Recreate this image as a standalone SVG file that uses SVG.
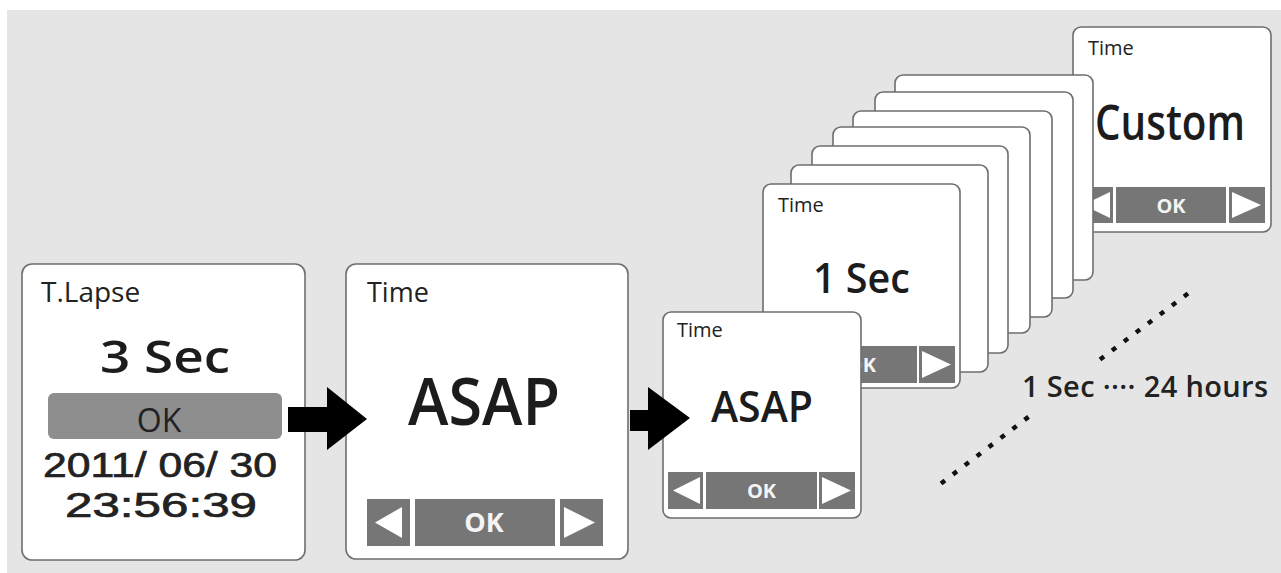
<svg xmlns="http://www.w3.org/2000/svg" width="1281" height="573" viewBox="0 0 1281 573">
<style>
.box{fill:#ffffff;stroke:#6e6e6e;stroke-width:1.6}
.btn{fill:#767676}
.tri{fill:#ffffff}
.t{font-family:"Open Sans","Noto Sans","Liberation Sans",sans-serif;fill:#222222}
.big{font-weight:600;fill:#1c1c1c}
.d{font-family:"Liberation Sans","Open Sans",sans-serif;fill:#222222;stroke:#222222;stroke-width:0.7;text-anchor:middle}
.ok{font-family:"Open Sans","Noto Sans","Liberation Sans",sans-serif;font-weight:700;fill:#f4f4f4;text-anchor:middle}
.mid{text-anchor:middle}
.arrow{fill:#000000}
.dots{fill:none;stroke:#111111;stroke-width:4.5;stroke-dasharray:5 10}
</style>
<rect x="0" y="0" width="1281" height="573" fill="#ffffff"/>
<rect x="7" y="10" width="1274" height="563" fill="#e5e5e5"/>

<g id="node-custom">
<rect class="box" x="1073" y="27" width="198" height="205" rx="8"/>
<text class="t" x="1088" y="55" font-size="20">Time</text>
<text class="t big mid" x="1170" y="140" font-size="48" textLength="150" lengthAdjust="spacingAndGlyphs">Custom</text>
<rect class="btn" x="1078" y="187" width="35" height="36"/>
<polygon class="tri" points="1083,205 1110,192 1110,218"/>
<rect class="btn" x="1116" y="187" width="110" height="36"/>
<text class="ok" x="1171" y="213" font-size="20">OK</text>
<rect class="btn" x="1229" y="187" width="36" height="36"/>
<polygon class="tri" points="1232,192 1261,205 1232,218"/>
</g>

<g id="node-stack">
<rect class="box" x="895" y="75" width="198" height="205" rx="8"/>
<rect class="box" x="875" y="92" width="198" height="206" rx="8"/>
<rect class="box" x="853" y="111" width="199" height="206" rx="8"/>
<rect class="box" x="833" y="127" width="197" height="206" rx="8"/>
<rect class="box" x="812" y="146" width="196" height="207" rx="8"/>
<rect class="box" x="791" y="165" width="197" height="207" rx="8"/>
</g>

<g id="node-1sec">
<rect class="box" x="763" y="184" width="197" height="204" rx="8"/>
<text class="t" x="778" y="212" font-size="20">Time</text>
<text class="t big mid" x="861.5" y="293" font-size="42" textLength="97" lengthAdjust="spacingAndGlyphs">1 Sec</text>
<rect class="btn" x="768" y="346" width="35" height="37"/>
<polygon class="tri" points="773,364.5 800,351 800,378"/>
<rect class="btn" x="806" y="346" width="111" height="37"/>
<text class="ok" x="861.5" y="372" font-size="20">OK</text>
<rect class="btn" x="919" y="346" width="36" height="37"/>
<polygon class="tri" points="922,351 951,364.5 922,378"/>
</g>

<g id="node-asap-small">
<rect class="box" x="663" y="312" width="198" height="206" rx="8"/>
<text class="t" x="677" y="337" font-size="20">Time</text>
<text class="t big mid" x="762" y="422" font-size="44" textLength="102" lengthAdjust="spacingAndGlyphs">ASAP</text>
<rect class="btn" x="668" y="472" width="35" height="37"/>
<polygon class="tri" points="673,490.5 700,477 700,504"/>
<rect class="btn" x="706" y="472" width="111" height="37"/>
<text class="ok" x="761.5" y="498" font-size="20">OK</text>
<rect class="btn" x="819" y="472" width="36" height="37"/>
<polygon class="tri" points="822,477 851,490.5 822,504"/>
</g>

<g id="node-tlapse">
<rect class="box" x="22" y="264" width="283" height="296" rx="10"/>
<text class="t" x="41" y="302" font-size="28">T.Lapse</text>
<text class="t big mid" x="165" y="373" font-size="46" textLength="130" lengthAdjust="spacingAndGlyphs">3 Sec</text>
<rect x="48" y="393" width="234" height="46" rx="6" fill="#8e8e8e"/>
<text class="t mid" x="159" y="432" font-size="32">OK</text>
<text class="d" x="160" y="477" font-size="35" textLength="234" lengthAdjust="spacingAndGlyphs">2011/ 06/ 30</text>
<text class="d" x="161" y="517" font-size="35" textLength="192" lengthAdjust="spacingAndGlyphs">23:56:39</text>
</g>

<g id="node-asap">
<rect class="box" x="346" y="264" width="282" height="295" rx="10"/>
<text class="t" x="367" y="302" font-size="27">Time</text>
<text class="t big mid" x="484" y="425" font-size="66" textLength="152" lengthAdjust="spacingAndGlyphs">ASAP</text>
<rect class="btn" x="367" y="499" width="43" height="47"/>
<polygon class="tri" points="375,522.5 402,507 402,538"/>
<rect class="btn" x="415" y="499" width="140" height="47"/>
<text class="ok" x="484" y="532" font-size="27">OK</text>
<rect class="btn" x="560" y="499" width="43" height="47"/>
<polygon class="tri" points="564,507 595,522.5 564,538"/>
</g>

<g id="label-range">
<text class="t" x="1022" y="397" font-size="29" font-weight="600" textLength="246" lengthAdjust="spacing">1 Sec ···· 24 hours</text>
<path class="dots" d="M1100,359.5 L1188,293.5"/>
<path class="dots" d="M941,483.5 L1029,416.5"/>
</g>

<g id="connectors">
<polygon class="arrow" points="288,407 327,407 327,387 367,419 327,450 327,432 288,432"/>
<polygon class="arrow" points="630,410 648,410 648,387 690,418 648,450 648,431 630,431"/>
</g>
</svg>
